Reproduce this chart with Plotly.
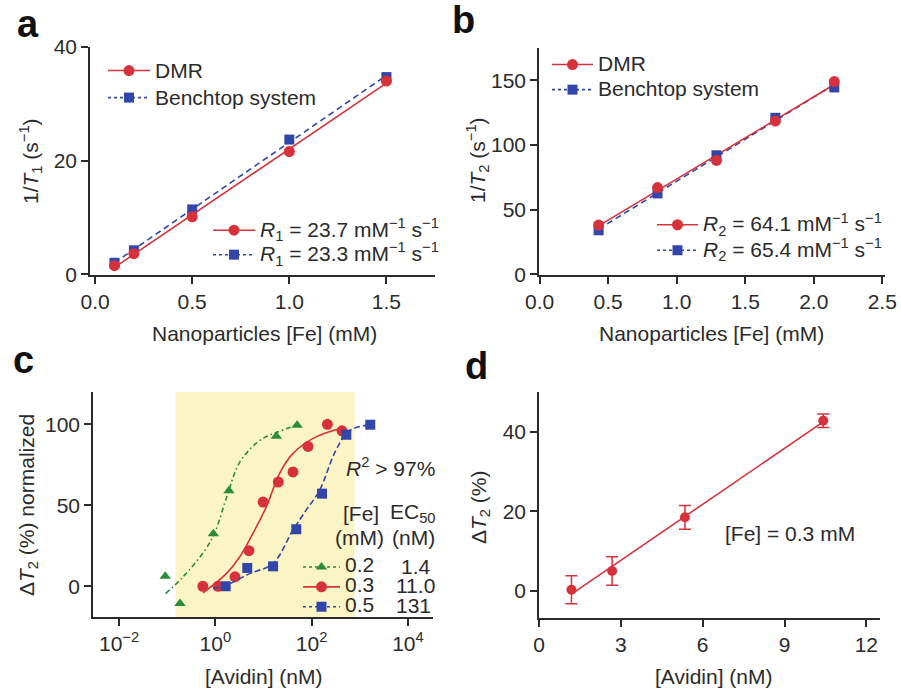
import numpy as np
import plotly.graph_objects as go

W, H = 901, 692

# ---------------- data ----------------
# panel a: 1/T1 vs [Fe]
a_fe = [0.1, 0.2, 0.5, 1.0, 1.5]
a_dmr = [1.5, 3.6, 10.1, 21.6, 34.0]
a_bench = [2.0, 4.2, 11.4, 23.7, 34.7]
a_labels = ["23.7", "23.3"]

# panel b: 1/T2 vs [Fe]
b_fe = [0.43, 0.86, 1.29, 1.72, 2.15]
b_dmr = [38, 67, 88, 118.5, 149]
b_bench = [34, 62.5, 92, 121, 144.5]
b_labels = ["64.1", "65.4"]

# panel c: normalized dT2 vs avidin (log)
c_fe = ["0.2", "0.3", "0.5"]
c_ec50 = ["1.4", "11.0", "131"]
c_low_x = [0.091, 0.185, 0.91, 1.92, 18.5, 50]
c_low_y = [6.2, -10.7, 32.5, 59, 92.6, 99.4]
c_mid_x = [0.55, 1.14, 2.56, 5.0, 9.8, 20.3, 41, 84, 212, 427]
c_mid_y = [0, 0, 5.8, 22, 52, 64.4, 70.6, 86.4, 100, 96]
c_high_x = [1.64, 4.6, 15.8, 48, 164, 525, 1650]
c_high_y = [0, 11.3, 12.3, 35.2, 57.2, 93.6, 99.8]
# fitted curves
c_low_fx = [0.093, 0.211, 0.60, 0.97, 1.72, 3.2, 8.3, 18.6, 48.4]
c_low_fy = [-4.5, 5.6, 22, 33, 55, 76.5, 90, 95, 99.4]
c_mid_fx = [0.556, 1.69, 3.2, 6.0, 11.4, 21.5, 40.7, 105, 320, 442]
c_mid_fy = [-4.1, 7.8, 18.1, 32.5, 48.9, 69.6, 81.9, 91.2, 96.7, 97.3]
c_high_fx = [0.90, 1.69, 5.15, 15.7, 40.7, 76.9, 144.5, 320, 603, 1622]
c_high_fy = [-1.4, 0.6, 7.8, 14, 34.6, 47, 59, 84, 96, 99.8]
c_window = [0.15, 780]

# panel d: dT2 vs avidin
d_avidin = [1.19, 2.68, 5.35, 10.42]
d_dt2 = [0.3, 5.0, 18.5, 42.8]
d_err = [3.5, 3.6, 3.0, 1.7]

# ---------------- style ----------------
RED = "#D7323C"
BLUE = "#3246AA"
GREEN = "#2A8C3C"
YELLOW = "#FBF5C6"
TXT = "#2b2b2b"
FONT = "Liberation Sans, Arial, sans-serif"
FS = 21


def px(x):
    return x / W


def py(y):
    return 1 - y / H


def xdom(a, b):
    return [a / W, b / W]


def ydom(top, bottom):
    return [1 - bottom / H, 1 - top / H]


def big(s, size=FS):
    return "<span style='font-size:%dpx'>%s</span>" % (size, s)


fig = go.Figure()


def fit_line(x, y):
    k, b = np.polyfit(x, y, 1)
    xs = [min(x), max(x)]
    return xs, [k * v + b for v in xs]


# ---- panel a ----
for xs, ys, col, sym, dash in [(a_fe, a_bench, BLUE, "square", "6px,4px"),
                               (a_fe, a_dmr, RED, "circle", "solid")]:
    lx, ly = fit_line(xs, ys)
    fig.add_trace(go.Scatter(x=lx, y=ly, mode="lines", line=dict(color=col, width=1.6, dash=dash),
                             xaxis="x", yaxis="y", showlegend=False, hoverinfo="skip"))
    fig.add_trace(go.Scatter(x=xs, y=ys, mode="markers",
                             marker=dict(color=col, symbol=sym, size=11 if sym == "circle" else 10),
                             xaxis="x", yaxis="y", showlegend=False))

# ---- panel b ----
for xs, ys, col, sym, dash in [(b_fe, b_bench, BLUE, "square", "6px,4px"),
                               (b_fe, b_dmr, RED, "circle", "solid")]:
    lx, ly = fit_line(xs, ys)
    fig.add_trace(go.Scatter(x=lx, y=ly, mode="lines", line=dict(color=col, width=1.6, dash=dash),
                             xaxis="x2", yaxis="y2", showlegend=False, hoverinfo="skip"))
for xs, ys, col, sym in [(b_fe, b_bench, BLUE, "square"), (b_fe, b_dmr, RED, "circle")]:
    fig.add_trace(go.Scatter(x=xs, y=ys, mode="markers",
                             marker=dict(color=col, symbol=sym, size=11 if sym == "circle" else 10),
                             xaxis="x2", yaxis="y2", showlegend=False))

# legend-only entries for a and b
ent = [
    ("legend", "DMR", RED, "circle", "solid"),
    ("legend", "Benchtop system", BLUE, "square", "3px,3px"),
    ("legend2", "<i>R</i><sub>1</sub> = %s mM<sup>−1</sup> s<sup>−1</sup>" % a_labels[0], RED, "circle", "solid"),
    ("legend2", "<i>R</i><sub>1</sub> = %s mM<sup>−1</sup> s<sup>−1</sup>" % a_labels[1], BLUE, "square", "3px,3px"),
    ("legend3", "DMR", RED, "circle", "solid"),
    ("legend3", "Benchtop system", BLUE, "square", "3px,3px"),
    ("legend4", "<i>R</i><sub>2</sub> = %s mM<sup>−1</sup> s<sup>−1</sup>" % b_labels[0], RED, "circle", "solid"),
    ("legend4", "<i>R</i><sub>2</sub> = %s mM<sup>−1</sup> s<sup>−1</sup>" % b_labels[1], BLUE, "square", "3px,3px"),
]
for lg, name, col, sym, dash in ent:
    fig.add_trace(go.Scatter(x=[None], y=[None], mode="lines+markers", name=big(name), legend=lg,
                             line=dict(color=col, width=1.6, dash=dash),
                             marker=dict(color=col, symbol=sym, size=11 if sym == "circle" else 10),
                             xaxis="x", yaxis="y"))

# ---- panel c ----
c_series = [
    (c_low_x, c_low_y, c_low_fx, c_low_fy, GREEN, "triangle-up", "5px,3px,1.5px,3px", 10),
    (c_mid_x, c_mid_y, c_mid_fx, c_mid_fy, RED, "circle", "solid", 11),
    (c_high_x, c_high_y, c_high_fx, c_high_fy, BLUE, "square", "6px,3px", 10),
]
for i, (xs, ys, fx, fy, col, sym, dash, ms) in enumerate(c_series):
    fig.add_trace(go.Scatter(x=fx, y=fy, mode="lines", line=dict(color=col, width=1.6, dash=dash, shape="spline"),
                             xaxis="x3", yaxis="y3", showlegend=False, hoverinfo="skip"))
    fig.add_trace(go.Scatter(x=xs, y=ys, mode="markers", marker=dict(color=col, symbol=sym, size=ms),
                             xaxis="x3", yaxis="y3", showlegend=False))
for i, (xs, ys, fx, fy, col, sym, dash, ms) in enumerate(c_series):
    fig.add_trace(go.Scatter(x=[None], y=[None], mode="lines+markers", legend="legend5",
                             name=big(c_fe[i]),
                             line=dict(color=col, width=1.6, dash=dash if dash == "solid" else "3px,3px"),
                             marker=dict(color=col, symbol=sym, size=ms),
                             xaxis="x3", yaxis="y3"))

# ---- panel d ----
lx, ly = fit_line(d_avidin, d_dt2)
fig.add_trace(go.Scatter(x=lx, y=ly, mode="lines", line=dict(color=RED, width=1.6),
                         xaxis="x4", yaxis="y4", showlegend=False, hoverinfo="skip"))
fig.add_trace(go.Scatter(x=d_avidin, y=d_dt2, mode="markers",
                         marker=dict(color=RED, symbol="circle", size=10),
                         error_y=dict(type="data", array=d_err, visible=True, color=RED, thickness=1.5, width=6),
                         xaxis="x4", yaxis="y4", showlegend=False))

# ---------------- layout ----------------
axis_common = dict(showline=True, linecolor=TXT, linewidth=1.5, ticks="outside", ticklen=7,
                   tickwidth=1.5, tickcolor=TXT, showgrid=False, zeroline=False, automargin=False,
                   tickfont=dict(family=FONT, size=FS, color=TXT))

layout = dict(
    width=W, height=H, margin=dict(l=0, r=0, t=0, b=0, pad=0, autoexpand=False),
    paper_bgcolor="white", plot_bgcolor="rgba(0,0,0,0)",
    font=dict(family=FONT, size=FS, color=TXT),
    xaxis=dict(domain=xdom(90, 435), anchor="y", range=[-0.026, 1.75], tickvals=[0, 0.5, 1.0, 1.5],
               tickformat=".1f", **axis_common),
    yaxis=dict(domain=ydom(47, 275), anchor="x", range=[-0.15, 40], tickvals=[0, 20, 40], **axis_common),
    xaxis2=dict(domain=xdom(539, 885), anchor="y2", range=[-0.005, 2.52], tickvals=[0, 0.5, 1, 1.5, 2, 2.5],
                tickformat=".1f", **axis_common),
    yaxis2=dict(domain=ydom(48, 275), anchor="x2", range=[-0.6, 175], tickvals=[0, 50, 100, 150], **axis_common),
    xaxis3=dict(domain=xdom(93, 433), anchor="y3", type="log", range=[-2.54, 4.52],
                tickvals=[0.01, 1, 100, 10000],
                ticktext=["10<sup>−2</sup>", "10<sup>0</sup>", "10<sup>2</sup>", "10<sup>4</sup>"], **axis_common),
    yaxis3=dict(domain=ydom(392, 617), anchor="x3", range=[-19, 120], tickvals=[0, 50, 100], **axis_common),
    xaxis4=dict(domain=xdom(539, 880), anchor="y4", range=[0, 12.5], tickvals=[0, 3, 6, 9, 12], **axis_common),
    yaxis4=dict(domain=ydom(392, 618), anchor="x4", range=[-6.8, 50], tickvals=[0, 20, 40], **axis_common),
)

leg_common = dict(xanchor="left", yanchor="top", bgcolor="rgba(0,0,0,0)", borderwidth=0,
                  tracegroupgap=0)
layout["legend"] = dict(x=px(103), y=py(52), itemwidth=42, font=dict(family=FONT, size=18.5, color=TXT), **leg_common)
layout["legend2"] = dict(x=px(208), y=py(213), itemwidth=42, font=dict(family=FONT, size=16.5, color=TXT), **leg_common)
layout["legend3"] = dict(x=px(547), y=py(47), itemwidth=41, font=dict(family=FONT, size=17.0, color=TXT), **leg_common)
layout["legend4"] = dict(x=px(652), y=py(207), itemwidth=41, font=dict(family=FONT, size=17.3, color=TXT), **leg_common)
layout["legend5"] = dict(x=px(298), y=py(552), itemwidth=37, font=dict(family=FONT, size=13, color=TXT), **leg_common)

fig.update_layout(**layout)

# yellow highlight window
fig.add_shape(type="rect", xref="x3", yref="y3 domain", x0=c_window[0], x1=c_window[1], y0=0, y1=1,
              fillcolor=YELLOW, line=dict(width=0), layer="below")

ann = []


def text(x, y, s, size=FS, angle=0, xanchor="center", bold=False):
    ann.append(dict(x=px(x), y=py(y), xref="paper", yref="paper", text=("<b>%s</b>" % s) if bold else s,
                    showarrow=False, textangle=angle, xanchor=xanchor, yanchor="middle",
                    font=dict(family=FONT, size=size, color="#111" if bold else TXT)))


# panel letters
text(28, 24, "a", 38, bold=True)
text(463, 20, "b", 38, bold=True)
text(23, 360, "c", 38, bold=True)
text(476, 366, "d", 38, bold=True)
# axis titles
text(264, 333, "Nanoparticles [Fe] (mM)")
text(711, 333, "Nanoparticles [Fe] (mM)")
text(263, 676, "[Avidin] (nM)")
text(713, 676, "[Avidin] (nM)")
text(30, 161, "1/<i>T</i><sub>1</sub> (s<sup>−1</sup>)", angle=-90)
text(477, 160, "1/<i>T</i><sub>2</sub> (s<sup>−1</sup>)", angle=-90)
text(28, 505, "Δ<i>T</i><sub>2</sub> (%) normalized", angle=-90)
text(480, 507, "Δ<i>T</i><sub>2</sub> (%)", angle=-90)
# panel c texts
text(437, 467, "<i>R</i><sup>2</sup> &gt; 97%", xanchor="right")
text(361, 513, "[Fe]")
text(438, 513, "EC<sub>50</sub>", xanchor="right")
text(359, 537, "(mM)")
text(437, 537, "(nM)", xanchor="right")
for i, v in enumerate(c_ec50):
    text(433 if i != 1 else 437, 566 + 19.5 * i, v, xanchor="right")
# panel d text
text(790, 533, "[Fe] = 0.3 mM")

fig.update_layout(annotations=ann)
fig.write_html("out.html")
